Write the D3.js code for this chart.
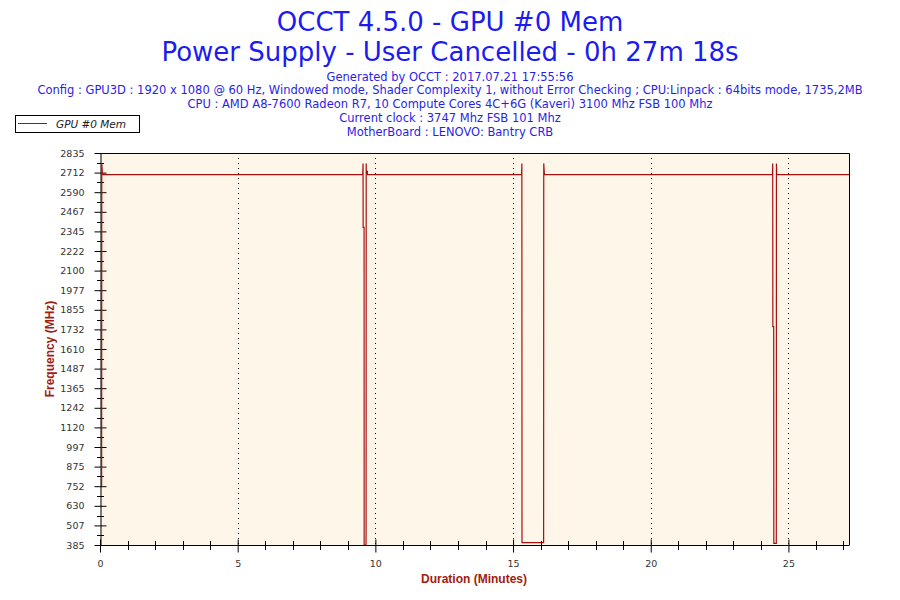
<!DOCTYPE html>
<html>
<head>
<meta charset="utf-8">
<script src="https://cdn.jsdelivr.net/npm/d3@7"></script>
<style>
  body { margin: 0; background: #fff; }
  svg { display: block; }
</style>
</head>
<body>
<svg width="900" height="600"></svg>
<script>
const titleLines = ["OCCT 4.5.0 - GPU #0 Mem", "Power Supply - User Cancelled - 0h 27m 18s"];
const infoLines = [
  "Generated by OCCT : 2017.07.21 17:55:56",
  "Config : GPU3D : 1920 x 1080 @ 60 Hz, Windowed mode, Shader Complexity 1, without Error Checking ; CPU:Linpack : 64bits mode, 1735,2MB",
  "CPU : AMD A8-7600 Radeon R7, 10 Compute Cores 4C+6G (Kaveri) 3100 Mhz FSB 100 Mhz",
  "Current clock : 3747 Mhz FSB 101 Mhz",
  "MotherBoard : LENOVO: Bantry CRB"
];
const seriesName = "GPU #0 Mem";

// time in minutes
const times = [
  0.06, 0.065, 0.09,
  9.54, 9.553, 9.556, 9.59, 9.593, 9.66, 9.663, 9.667, 9.672, 9.71, 9.713,
  15.31, 15.32, 15.325, 16.11, 16.115, 16.125, 16.14,
  24.42, 24.43, 24.435, 24.465, 24.47, 24.56, 24.565, 24.575,
  27.2
];
// GPU memory clock in MHz
const values = [
  752, 2770, 2700,
  2700, 2770, 2370, 2370, 385, 385, 470, 2770, 2720, 2720, 2700,
  2700, 2770, 400, 400, 2770, 2740, 2700,
  2700, 2770, 1750, 1750, 395, 395, 2770, 2700,
  2700
];

const yTickLabels = ["385", "507", "630", "752", "875", "997", "1120", "1242", "1365", "1487", "1610",
  "1732", "1855", "1977", "2100", "2222", "2345", "2467", "2590", "2712", "2835"];
const xTickLabels = [0, 5, 10, 15, 20, 25];

const svg = d3.select("svg");
const plotLeft = 100, plotRight = 849, plotTop = 153, plotBottom = 545;
const lineColor = "#a81010";
const labelColor = "#a02010";

const x = d3.scaleLinear().domain([0, 27.2]).range([plotLeft, plotRight]);
const y = d3.scaleLinear().domain([385, 2835]).range([plotBottom, plotTop]);
const yStep = (2835 - 385) / (yTickLabels.length - 1);

// titles
svg.selectAll(".title")
  .data(titleLines)
  .join("text")
  .attr("class", "title")
  .attr("x", 450)
  .attr("y", (d, i) => 31 + i * 30)
  .attr("text-anchor", "middle")
  .style("font-family", "DejaVu Sans, Verdana, sans-serif")
  .style("font-size", "26px")
  .style("fill", "#1c1cf0")
  .text(d => d);

svg.selectAll(".info")
  .data(infoLines)
  .join("text")
  .attr("class", "info")
  .attr("x", 450)
  .attr("y", (d, i) => 80.5 + i * 13.8)
  .attr("text-anchor", "middle")
  .style("font-family", "DejaVu Sans, Verdana, sans-serif")
  .style("font-size", "11.5px")
  .style("fill", "#2a1ee6")
  .text(d => d);

// plot background
svg.append("rect")
  .attr("x", plotLeft).attr("y", plotTop)
  .attr("width", plotRight - plotLeft).attr("height", plotBottom - plotTop)
  .attr("fill", "#fef7e9");

// vertical dotted grid
svg.selectAll(".grid")
  .data(xTickLabels.filter(d => d > 0))
  .join("line")
  .attr("class", "grid")
  .attr("x1", d => Math.round(x(d)) + 0.5).attr("x2", d => Math.round(x(d)) + 0.5)
  .attr("y1", plotTop).attr("y2", plotBottom)
  .attr("stroke", "#000")
  .attr("stroke-width", 1)
  .attr("stroke-dasharray", "1,4");

// frame: top and right
svg.append("path")
  .attr("d", `M${plotLeft},${plotTop + 0.5}H${plotRight + 0.5}V${plotBottom}`)
  .attr("fill", "none")
  .attr("stroke", "#000");

// y axis
const yAxis = d3.axisLeft(y)
  .tickValues(yTickLabels.map((d, i) => 385 + i * yStep))
  .tickFormat((d, i) => yTickLabels[i])
  .tickSizeOuter(0)
  .tickSizeInner(6)
  .tickPadding(10);

const gy = svg.append("g")
  .attr("transform", `translate(${plotLeft + 0.5},0)`)
  .call(yAxis);
gy.selectAll(".tick line").attr("x2", 6).attr("x1", -6);
gy.selectAll(".tick text")
  .style("font-family", "DejaVu Sans, Verdana, sans-serif")
  .style("font-size", "9.5px")
  .style("fill", "#333");

// y minor ticks
svg.append("g").selectAll("line")
  .data(d3.range(yTickLabels.length - 1).map(i => 385 + (i + 0.5) * yStep))
  .join("line")
  .attr("x1", plotLeft - 3).attr("x2", plotLeft + 4)
  .attr("y1", d => Math.round(y(d)) + 0.5).attr("y2", d => Math.round(y(d)) + 0.5)
  .attr("stroke", "#000");

// series (drawn over the axis ticks, like the original)
const line = d3.line()
  .x((d, i) => x(times[i]))
  .y(d => y(d));

svg.append("path")
  .datum(values)
  .attr("d", line)
  .attr("fill", "none")
  .attr("stroke", lineColor)
  .attr("stroke-width", 1.2);

// x axis
const xAxis = d3.axisBottom(x)
  .tickValues(xTickLabels)
  .tickFormat(d3.format("d"))
  .tickSizeOuter(0)
  .tickSizeInner(7)
  .tickPadding(8);

const gx = svg.append("g")
  .attr("transform", `translate(0,${plotBottom + 0.5})`)
  .call(xAxis);
gx.select(".domain").attr("d", `M${plotLeft},0H${plotRight + 0.5}`);
gx.selectAll(".tick line").attr("y1", -6).attr("y2", 7);
gx.selectAll(".tick text")
  .style("font-family", "DejaVu Sans, Verdana, sans-serif")
  .style("font-size", "9.5px")
  .style("fill", "#333");

// x minor ticks every minute
svg.append("g").selectAll("line")
  .data(d3.range(1, 28).filter(d => d % 5 !== 0))
  .join("line")
  .attr("x1", d => Math.round(x(d)) + 0.5).attr("x2", d => Math.round(x(d)) + 0.5)
  .attr("y1", plotBottom - 4).attr("y2", plotBottom + 5)
  .attr("stroke", "#000");

// axis titles
svg.append("text")
  .attr("transform", `translate(54,${(plotTop + plotBottom) / 2}) rotate(-90)`)
  .attr("text-anchor", "middle")
  .style("font-family", "Liberation Sans, Arial, sans-serif")
  .style("font-weight", "bold")
  .style("font-size", "12px")
  .style("fill", labelColor)
  .text("Frequency (MHz)");

svg.append("text")
  .attr("x", 474)
  .attr("y", 583)
  .attr("text-anchor", "middle")
  .style("font-family", "Liberation Sans, Arial, sans-serif")
  .style("font-weight", "bold")
  .style("font-size", "12px")
  .style("fill", labelColor)
  .text("Duration (Minutes)");

// legend
const legend = svg.append("g");
legend.append("rect")
  .attr("x", 15.5).attr("y", 115.5)
  .attr("width", 124).attr("height", 17)
  .attr("fill", "#fff")
  .attr("stroke", "#000");
legend.append("line")
  .attr("x1", 18).attr("x2", 47)
  .attr("y1", 123.5).attr("y2", 123.5)
  .attr("stroke", lineColor);
legend.append("text")
  .attr("x", 56).attr("y", 127.5)
  .style("font-family", "DejaVu Sans, Verdana, sans-serif")
  .style("font-style", "italic")
  .style("font-size", "10.5px")
  .style("fill", "#222")
  .text(seriesName);
</script>
</body>
</html>
